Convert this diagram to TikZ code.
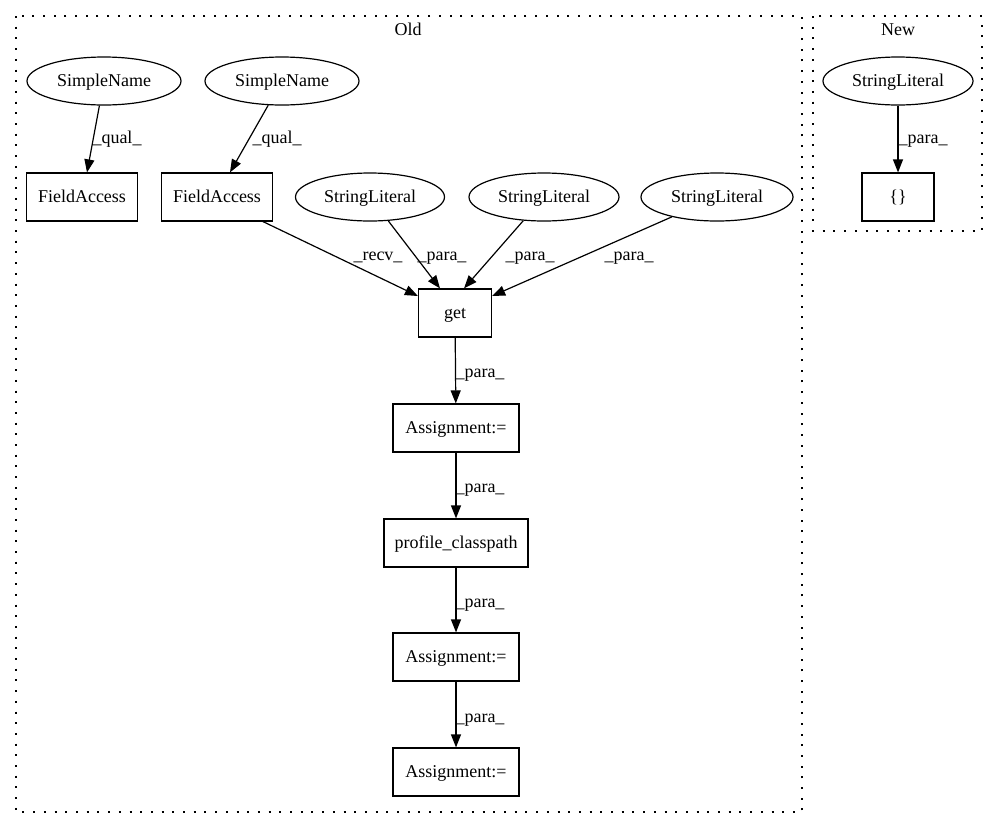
\documentclass[tikz,border=0pt]{standalone}
\usepackage{fontspec}
\setmainfont{Liberation Serif}
\usetikzlibrary{shapes.geometric,arrows.meta}
\begin{document}
\begin{tikzpicture}[x=1pt,y=-1pt,
  every node/.style={font=\fontsize{18}{21}\selectfont},
  box/.style={draw,rectangle,line width=1.2pt,minimum height=48pt,inner sep=0pt,text height=13pt,text depth=3pt},
  oval/.style={draw,ellipse,line width=1.2pt,minimum height=48pt,inner sep=0pt,text height=13pt,text depth=3pt},
  conn/.style={draw,line width=1.2pt,-{Triangle[length=13pt,width=10pt]}},
  lab/.style={inner sep=0pt,anchor=base},
  cluster/.style={draw,line width=1.2pt,dash pattern=on 2pt off 8.7pt}]
\useasboundingbox (0,0) rectangle (1000,828);
% clusters
\draw[cluster] (16,16) rectangle (802,812);
\draw[cluster] (813,16) rectangle (982,231);
\node[lab] (oldlab) at (408,35) {Old};
\node[lab] (newlab) at (898,35) {New};
% nodes Old
\node[oval,minimum width=154pt] (sn1) at (104,81) {SimpleName};
\node[oval,minimum width=154pt] (sn2) at (282,81) {SimpleName};
\node[box,minimum width=111pt] (fa1) at (82,197) {FieldAccess};
\node[box,minimum width=111pt] (fa2) at (217,197) {FieldAccess};
\node[oval,minimum width=149pt] (sl1) at (370,197) {StringLiteral};
\node[oval,minimum width=150pt] (sl2) at (544,197) {StringLiteral};
\node[oval,minimum width=152pt] (sl3) at (717,197) {StringLiteral};
\node[box,minimum width=73pt] (get) at (455,313) {get};
\node[box,minimum width=126pt] (a1) at (456,428) {Assignment:=};
\node[box,minimum width=144pt] (pc) at (456,543) {profile\_classpath};
\node[box,minimum width=126pt] (a2) at (456,657) {Assignment:=};
\node[box,minimum width=126pt] (a3) at (456,772) {Assignment:=};
% nodes New
\node[oval,minimum width=150pt] (nsl) at (898,81) {StringLiteral};
\node[box,minimum width=72pt] (nb) at (898,197) {\{\}};
% edges
\draw[conn] (sn1) -- ([xshift=5pt]fa1.north);
\draw[conn] (sn2) -- ([xshift=13pt]fa2.north);
\draw[conn] ([xshift=46pt]fa2.south) -- ([yshift=17pt]get.west);
\draw[conn] (sl1) -- ([xshift=-15pt]get.north);
\draw[conn] (sl2) -- ([xshift=9pt]get.north);
\draw[conn] (sl3) -- ([yshift=17pt]get.east);
\draw[conn] (get) -- (a1);
\draw[conn] (a1) -- (pc);
\draw[conn] (pc) -- (a2);
\draw[conn] (a2) -- (a3);
\draw[conn] (nsl) -- (nb);
% labels
\node[lab] (l1) at (117,143) {\_qual\_};
\node[lab] (l2) at (277,143) {\_qual\_};
\node[lab] (l3) at (378,260) {\_recv\_};
\node[lab] (l4) at (442,260) {\_para\_};
\node[lab] (l5) at (530,260) {\_para\_};
\node[lab] (l6) at (629,260) {\_para\_};
\node[lab] (l7) at (480,377) {\_para\_};
\node[lab] (l8) at (480,492) {\_para\_};
\node[lab] (l9) at (480,607) {\_para\_};
\node[lab] (l10) at (480,722) {\_para\_};
\node[lab] (l11) at (923,143) {\_para\_};
\end{tikzpicture}
\end{document}
